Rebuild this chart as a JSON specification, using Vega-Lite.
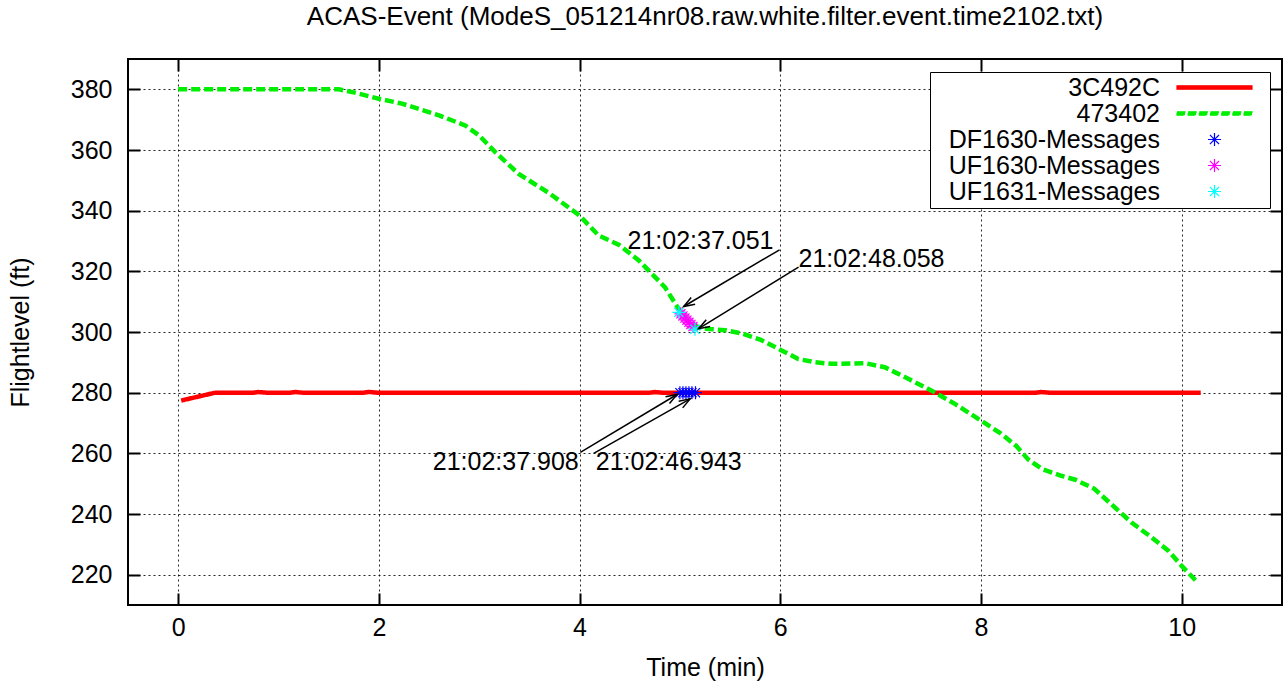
{
  "$schema": "https://vega.github.io/schema/vega-lite/v6.json",
  "width": 1154,
  "height": 546,
  "autosize": {"type": "none"},
  "padding": {"left": 128, "top": 59, "right": 2, "bottom": 79},
  "background": "white",
  "title": {
    "text": "ACAS-Event (ModeS_051214nr08.raw.white.filter.event.time2102.txt)",
    "font": "Liberation Sans",
    "fontSize": 26,
    "fontWeight": "normal",
    "color": "black",
    "anchor": "middle",
    "baseline": "alphabetic",
    "offset": 7
  },
  "config": {
    "view": {"stroke": "black", "strokeWidth": 2},
    "font": "Liberation Sans"
  },
  "datasets": {
    "tracks": [
      {"series": "3C492C", "t": 0.03, "fl": 277.4},
      {"series": "3C492C", "t": 0.37, "fl": 280.0},
      {"series": "3C492C", "t": 0.75, "fl": 280.0},
      {"series": "3C492C", "t": 0.8, "fl": 280.2},
      {"series": "3C492C", "t": 0.88, "fl": 280.0},
      {"series": "3C492C", "t": 1.12, "fl": 280.0},
      {"series": "3C492C", "t": 1.17, "fl": 280.2},
      {"series": "3C492C", "t": 1.24, "fl": 280.0},
      {"series": "3C492C", "t": 1.85, "fl": 280.0},
      {"series": "3C492C", "t": 1.9, "fl": 280.25},
      {"series": "3C492C", "t": 1.98, "fl": 280.0},
      {"series": "3C492C", "t": 4.7, "fl": 280.0},
      {"series": "3C492C", "t": 4.75, "fl": 280.2},
      {"series": "3C492C", "t": 4.82, "fl": 280.0},
      {"series": "3C492C", "t": 8.55, "fl": 280.0},
      {"series": "3C492C", "t": 8.6, "fl": 280.2},
      {"series": "3C492C", "t": 8.68, "fl": 280.0},
      {"series": "3C492C", "t": 10.19, "fl": 280.0},
      {"series": "473402", "t": 0.0, "fl": 380.0},
      {"series": "473402", "t": 1.6, "fl": 380.0},
      {"series": "473402", "t": 1.75, "fl": 379.0},
      {"series": "473402", "t": 2.0, "fl": 376.9},
      {"series": "473402", "t": 2.23, "fl": 375.3},
      {"series": "473402", "t": 2.6, "fl": 371.4},
      {"series": "473402", "t": 2.86, "fl": 368.1},
      {"series": "473402", "t": 3.0, "fl": 364.8},
      {"series": "473402", "t": 3.16, "fl": 359.3},
      {"series": "473402", "t": 3.39, "fl": 352.2},
      {"series": "473402", "t": 3.7, "fl": 345.7},
      {"series": "473402", "t": 4.0, "fl": 338.4},
      {"series": "473402", "t": 4.19, "fl": 331.8},
      {"series": "473402", "t": 4.39, "fl": 328.8},
      {"series": "473402", "t": 4.59, "fl": 323.6},
      {"series": "473402", "t": 4.85, "fl": 314.8},
      {"series": "473402", "t": 4.99, "fl": 307.5},
      {"series": "473402", "t": 5.09, "fl": 303.2},
      {"series": "473402", "t": 5.2, "fl": 301.3},
      {"series": "473402", "t": 5.29, "fl": 301.0},
      {"series": "473402", "t": 5.45, "fl": 300.6},
      {"series": "473402", "t": 5.62, "fl": 299.5},
      {"series": "473402", "t": 5.8, "fl": 297.5},
      {"series": "473402", "t": 5.98, "fl": 294.5},
      {"series": "473402", "t": 6.18, "fl": 291.1},
      {"series": "473402", "t": 6.35, "fl": 290.0},
      {"series": "473402", "t": 6.51, "fl": 289.5},
      {"series": "473402", "t": 6.85, "fl": 289.7},
      {"series": "473402", "t": 7.04, "fl": 288.4},
      {"series": "473402", "t": 7.28, "fl": 284.5},
      {"series": "473402", "t": 7.54, "fl": 280.1},
      {"series": "473402", "t": 7.74, "fl": 276.3},
      {"series": "473402", "t": 8.0, "fl": 270.8},
      {"series": "473402", "t": 8.2, "fl": 266.5},
      {"series": "473402", "t": 8.35, "fl": 262.5},
      {"series": "473402", "t": 8.47, "fl": 258.0},
      {"series": "473402", "t": 8.61, "fl": 254.8},
      {"series": "473402", "t": 8.8, "fl": 252.6},
      {"series": "473402", "t": 8.94, "fl": 251.3},
      {"series": "473402", "t": 9.13, "fl": 248.3},
      {"series": "473402", "t": 9.37, "fl": 241.1},
      {"series": "473402", "t": 9.5, "fl": 237.2},
      {"series": "473402", "t": 9.7, "fl": 232.3},
      {"series": "473402", "t": 9.87, "fl": 227.8},
      {"series": "473402", "t": 10.0, "fl": 222.9},
      {"series": "473402", "t": 10.16, "fl": 217.4}
    ],
    "msgs": [
      {"series": "DF1630-Messages", "t": 5.0, "fl": 280.0},
      {"series": "DF1630-Messages", "t": 5.03, "fl": 280.0},
      {"series": "DF1630-Messages", "t": 5.06, "fl": 280.0},
      {"series": "DF1630-Messages", "t": 5.09, "fl": 280.0},
      {"series": "DF1630-Messages", "t": 5.12, "fl": 280.0},
      {"series": "DF1630-Messages", "t": 5.155, "fl": 280.0},
      {"series": "UF1630-Messages", "t": 5.01, "fl": 306.0},
      {"series": "UF1630-Messages", "t": 5.03, "fl": 305.3},
      {"series": "UF1630-Messages", "t": 5.05, "fl": 304.6},
      {"series": "UF1630-Messages", "t": 5.07, "fl": 303.9},
      {"series": "UF1630-Messages", "t": 5.09, "fl": 303.2},
      {"series": "UF1630-Messages", "t": 5.11, "fl": 302.5},
      {"series": "UF1630-Messages", "t": 5.13, "fl": 301.8},
      {"series": "UF1631-Messages", "t": 4.99, "fl": 306.5},
      {"series": "UF1631-Messages", "t": 5.15, "fl": 300.9}
    ],
    "labels": [
      {"label": "21:02:37.051", "t": 5.933, "fl": 329.9},
      {"label": "21:02:48.058", "t": 6.182, "fl": 324.1},
      {"label": "21:02:37.908", "t": 3.992, "fl": 257.3},
      {"label": "21:02:46.943", "t": 4.161, "fl": 257.3}
    ],
    "arrows": [
      {"label": "21:02:37.051", "t": 5.993, "fl": 327.1, "t2": 5.037, "fl2": 308.4},
      {"label": "21:02:48.058", "t": 6.182, "fl": 321.4, "t2": 5.187, "fl2": 301.1},
      {"label": "21:02:37.908", "t": 4.008, "fl": 260.35, "t2": 4.971, "fl2": 279.4},
      {"label": "21:02:46.943", "t": 4.141, "fl": 260.0, "t2": 5.102, "fl2": 277.96}
    ]
  },
  "resolve": {"axis": {"x": "independent", "y": "independent"}},
  "layer": [
    {
      "data": {"name": "tracks"},
      "mark": {"type": "line", "interpolate": "linear", "strokeWidth": 4.5},
      "encoding": {
        "x": {
          "field": "t", "type": "quantitative",
          "scale": {"domain": [-0.5, 11], "nice": false, "zero": false},
          "axis": {
            "orient": "bottom", "values": [0, 2, 4, 6, 8, 10],
            "grid": true, "gridDash": [2, 3], "gridColor": "#000", "gridWidth": 1, "gridOpacity": 0.85,
            "domain": false, "ticks": true, "tickSize": -12, "tickWidth": 2, "tickColor": "#000",
            "labelFont": "Liberation Sans", "labelFontSize": 25, "labelColor": "#000", "labelPadding": 22,
            "labelFlush": false, "labelOverlap": false,
            "title": "Time (min)", "titleFont": "Liberation Sans", "titleFontSize": 25, "titleFontWeight": "normal",
            "titleColor": "#000", "titleX": 577, "titleY": 62, "titleBaseline": "middle", "titleAlign": "center"
          }
        },
        "y": {
          "field": "fl", "type": "quantitative",
          "scale": {"domain": [210, 390], "nice": false, "zero": false},
          "axis": {
            "orient": "left", "values": [220, 240, 260, 280, 300, 320, 340, 360, 380],
            "grid": true, "gridDash": [2, 3], "gridColor": "#000", "gridWidth": 1, "gridOpacity": 0.85,
            "domain": false, "ticks": true, "tickSize": -12, "tickWidth": 2, "tickColor": "#000",
            "labelFont": "Liberation Sans", "labelFontSize": 25, "labelColor": "#000", "labelPadding": 28,
            "labelFlush": false, "labelOverlap": false,
            "title": "Flightlevel (ft)", "titleFont": "Liberation Sans", "titleFontSize": 25, "titleFontWeight": "normal",
            "titleColor": "#000", "titleX": -108, "titleY": 273, "titleAngle": -90, "titleBaseline": "middle", "titleAlign": "center"
          }
        },
        "stroke": {
          "field": "series", "type": "nominal",
          "scale": {
            "domain": ["3C492C", "473402", "DF1630-Messages", "UF1630-Messages", "UF1631-Messages"],
            "range": ["#ff0000", "#00ee00", "#0000ff", "#ff00ff", "#00ffff"]
          },
          "legend": {
            "title": null, "orient": "none", "legendX": 802, "legendY": 13, "direction": "vertical",
            "padding": 3, "strokeColor": "black", "fillColor": "white",
            "labelAlign": "right", "labelBaseline": "middle", "labelOffset": -67, "symbolOffset": 269,
            "labelFont": "Liberation Sans", "labelFontSize": 25, "labelColor": "black", "labelLimit": 400,
            "symbolSize": 169, "symbolStrokeWidth": 1.2, "rowPadding": -2
          }
        },
        "strokeDash": {
          "field": "series", "type": "nominal",
          "scale": {
            "domain": ["3C492C", "473402", "DF1630-Messages", "UF1630-Messages", "UF1631-Messages"],
            "range": [[1, 0], [9, 4], [1, 0], [1, 0], [1, 0]]
          },
          "legend": null
        }
      }
    },
    {
      "data": {"name": "msgs"},
      "mark": {"type": "point", "filled": false, "opacity": 1, "size": 169, "strokeWidth": 1.2},
      "encoding": {
        "x": {
          "field": "t", "type": "quantitative",
          "scale": {"domain": [-0.5, 11], "nice": false, "zero": false},
          "axis": {
            "orient": "top", "values": [0, 2, 4, 6, 8, 10], "grid": false, "domain": false,
            "labels": false, "ticks": true, "tickSize": -12, "tickWidth": 2, "tickColor": "#000", "title": null
          }
        },
        "y": {
          "field": "fl", "type": "quantitative",
          "scale": {"domain": [210, 390], "nice": false, "zero": false},
          "axis": {
            "orient": "right", "values": [220, 240, 260, 280, 300, 320, 340, 360, 380], "grid": false, "domain": false,
            "labels": false, "ticks": true, "tickSize": -12, "tickWidth": 2, "tickColor": "#000", "title": null
          }
        },
        "stroke": {"field": "series", "type": "nominal"},
        "fill": {
          "field": "series", "type": "nominal",
          "scale": {
            "domain": ["3C492C", "473402", "DF1630-Messages", "UF1630-Messages", "UF1631-Messages"],
            "range": ["#ff0000", "#00ee00", "#0000ff", "#ff00ff", "#00ffff"]
          }
        },
        "shape": {
          "field": "series", "type": "nominal",
          "scale": {
            "domain": ["3C492C", "473402", "DF1630-Messages", "UF1630-Messages", "UF1631-Messages"],
            "range": [
              "M-5.77,-0.27L5.77,-0.27L5.77,0.27L-5.77,0.27ZM7.6,0L7.6,0",
              "M-5.77,-0.27L-4.54,-0.27L-4.54,0.27L-5.77,0.27ZM-4.05,-0.27L-2.82,-0.27L-2.82,0.27L-4.05,0.27ZM-2.33,-0.27L-1.1,-0.27L-1.1,0.27L-2.33,0.27ZM-0.61,-0.27L0.62,-0.27L0.62,0.27L-0.61,0.27ZM1.11,-0.27L2.34,-0.27L2.34,0.27L1.11,0.27ZM2.83,-0.27L4.06,-0.27L4.06,0.27L2.83,0.27ZM4.55,-0.27L5.78,-0.27L5.78,0.27L4.55,0.27ZM7.6,0L7.6,0",
              "M-1,0L1,0M0,-1L0,1M-0.7,-0.7L0.7,0.7M-0.7,0.7L0.7,-0.7",
              "M-1,0L1,0M0,-1L0,1M-0.7,-0.7L0.7,0.7M-0.7,0.7L0.7,-0.7",
              "M-1,0L1,0M0,-1L0,1M-0.7,-0.7L0.7,0.7M-0.7,0.7L0.7,-0.7"
            ]
          }
        }
      }
    },
    {
      "data": {"name": "arrows"},
      "mark": {"type": "rule", "color": "black", "strokeWidth": 1.5},
      "encoding": {
        "x": {"field": "t", "type": "quantitative", "scale": {"domain": [-0.5, 11], "nice": false, "zero": false}, "axis": null},
        "y": {"field": "fl", "type": "quantitative", "scale": {"domain": [210, 390], "nice": false, "zero": false}, "axis": null},
        "x2": {"field": "t2"},
        "y2": {"field": "fl2"}
      }
    },
    {
      "data": {"name": "arrows"},
      "transform": [{"filter": "datum.fl2 > 290"}],
      "mark": {"type": "point", "filled": false, "size": 169, "stroke": "black", "strokeWidth": 1.5, "opacity": 1, "angle": -30.5, "shape": "M1.7,-0.6L0,0L1.7,0.6"},
      "encoding": {
        "x": {"field": "t2", "type": "quantitative", "scale": {"domain": [-0.5, 11], "nice": false, "zero": false}, "axis": null},
        "y": {"field": "fl2", "type": "quantitative", "scale": {"domain": [210, 390], "nice": false, "zero": false}, "axis": null}
      }
    },
    {
      "data": {"name": "arrows"},
      "transform": [{"filter": "datum.fl2 < 290"}],
      "mark": {"type": "point", "filled": false, "size": 169, "stroke": "black", "strokeWidth": 1.5, "opacity": 1, "angle": 149.2, "shape": "M1.7,-0.6L0,0L1.7,0.6"},
      "encoding": {
        "x": {"field": "t2", "type": "quantitative", "scale": {"domain": [-0.5, 11], "nice": false, "zero": false}, "axis": null},
        "y": {"field": "fl2", "type": "quantitative", "scale": {"domain": [210, 390], "nice": false, "zero": false}, "axis": null}
      }
    },
    {
      "data": {"name": "labels"},
      "transform": [{"filter": "datum.label === '21:02:37.051' || datum.label === '21:02:37.908'"}],
      "mark": {"type": "text", "align": "right", "baseline": "middle", "font": "Liberation Sans", "fontSize": 25, "color": "black"},
      "encoding": {
        "x": {"field": "t", "type": "quantitative", "scale": {"domain": [-0.5, 11], "nice": false, "zero": false}, "axis": null},
        "y": {"field": "fl", "type": "quantitative", "scale": {"domain": [210, 390], "nice": false, "zero": false}, "axis": null},
        "text": {"field": "label"}
      }
    },
    {
      "data": {"name": "labels"},
      "transform": [{"filter": "datum.label === '21:02:48.058' || datum.label === '21:02:46.943'"}],
      "mark": {"type": "text", "align": "left", "baseline": "middle", "font": "Liberation Sans", "fontSize": 25, "color": "black"},
      "encoding": {
        "x": {"field": "t", "type": "quantitative", "scale": {"domain": [-0.5, 11], "nice": false, "zero": false}, "axis": null},
        "y": {"field": "fl", "type": "quantitative", "scale": {"domain": [210, 390], "nice": false, "zero": false}, "axis": null},
        "text": {"field": "label"}
      }
    }
  ]
}
